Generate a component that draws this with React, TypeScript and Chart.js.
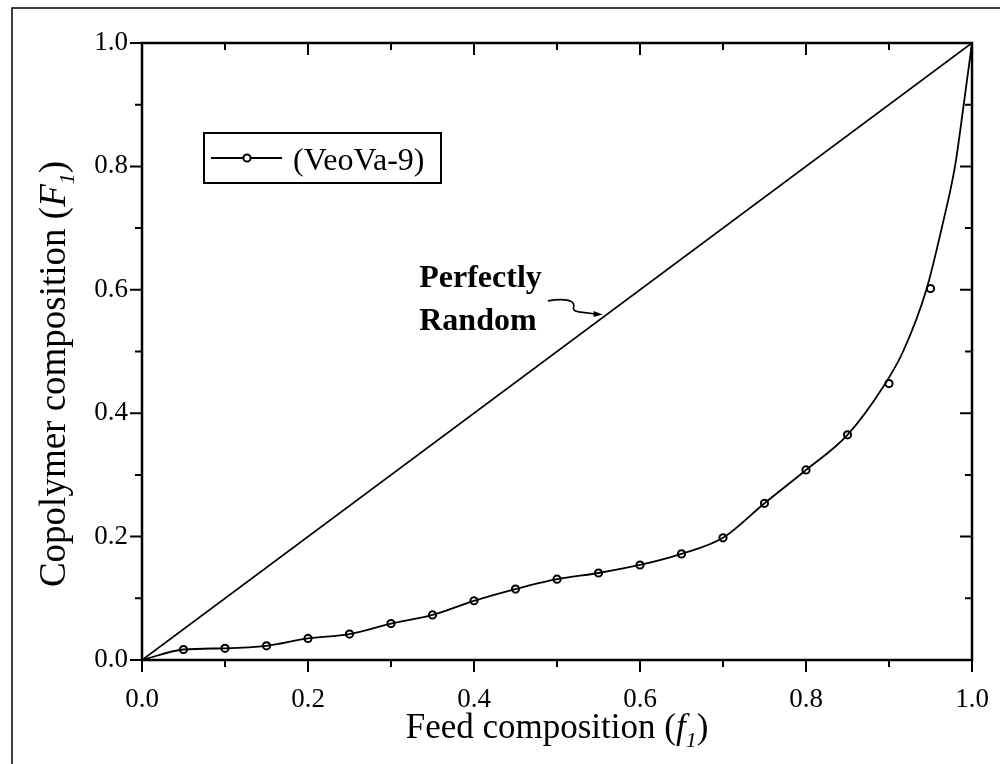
import { useEffect, useRef } from 'react';
import { Chart, registerables } from 'chart.js';

Chart.register(...registerables);

// ---- data ----
const feedX = [0.05, 0.1, 0.15, 0.2, 0.25, 0.3, 0.35, 0.4, 0.45, 0.5, 0.55, 0.6, 0.65, 0.7, 0.75, 0.8, 0.85, 0.9, 0.95];
const copolymerF = [0.017, 0.019, 0.023, 0.035, 0.042, 0.059, 0.073, 0.096, 0.115, 0.131, 0.141, 0.154, 0.172, 0.198, 0.254, 0.308, 0.365, 0.448, 0.602];
const fitX = [0, 0.05, 0.1, 0.15, 0.2, 0.25, 0.3, 0.35, 0.4, 0.45, 0.5, 0.55, 0.6, 0.65, 0.7, 0.75, 0.8, 0.85, 0.895, 0.917, 0.945, 0.9635, 0.9795, 0.99, 1.0];
const fitF = [0, 0.017, 0.019, 0.023, 0.035, 0.042, 0.059, 0.073, 0.096, 0.115, 0.131, 0.141, 0.154, 0.172, 0.198, 0.254, 0.308, 0.365, 0.447, 0.5, 0.6, 0.7, 0.8, 0.9, 1.0];
const randomX = [0, 1];
const randomF = [0, 1];
const majorTicks = [0, 0.2, 0.4, 0.6, 0.8, 1.0];
const minorTicks = [0.1, 0.3, 0.5, 0.7, 0.9];
const legendLabel = '(VeoVa-9)';
const noteLines = ['Perfectly', 'Random'];
const xTitle = 'Feed composition (';
const yTitle = 'Copolymer composition (';

const FONT = '"Liberation Serif", "Times New Roman", serif';

type Part = { text: string; font: string; dy?: number };

function drawRich(ctx: CanvasRenderingContext2D, parts: Part[], cx: number, by: number) {
  let total = 0;
  for (const p of parts) {
    ctx.font = p.font;
    total += ctx.measureText(p.text).width;
  }
  let x = cx - total / 2;
  ctx.textAlign = 'left';
  ctx.textBaseline = 'alphabetic';
  for (const p of parts) {
    ctx.font = p.font;
    ctx.fillText(p.text, x, by + (p.dy || 0));
    x += ctx.measureText(p.text).width;
  }
}

const decorPlugin = {
  id: 'decor',
  afterDraw(chart: any) {
    const { ctx, chartArea: a } = chart;
    const xs = chart.scales.x;
    const ys = chart.scales.y;
    ctx.save();
    ctx.strokeStyle = '#000';
    ctx.fillStyle = '#000';

    // outer frame (scan border)
    ctx.lineWidth = 1.5;
    ctx.beginPath();
    ctx.moveTo(12, 764);
    ctx.lineTo(12, 8);
    ctx.lineTo(1000, 8);
    ctx.stroke();

    // plot frame
    ctx.lineWidth = 2.5;
    ctx.strokeRect(a.left, a.top, a.right - a.left, a.bottom - a.top);

    // ticks
    ctx.lineWidth = 2;
    const tick = (v: number, len: number) => {
      const px = xs.getPixelForValue(v);
      const py = ys.getPixelForValue(v);
      ctx.beginPath();
      ctx.moveTo(px, a.bottom); ctx.lineTo(px, a.bottom + len);
      ctx.moveTo(px, a.top); ctx.lineTo(px, a.top + len);
      ctx.moveTo(a.left - len, py); ctx.lineTo(a.left, py);
      ctx.moveTo(a.right - len, py); ctx.lineTo(a.right, py);
      ctx.stroke();
    };
    majorTicks.forEach((v) => tick(v, 12));
    minorTicks.forEach((v) => tick(v, 7));

    // axis titles
    const big = `35px ${FONT}`;
    const bigI = `italic 35px ${FONT}`;
    const subI = `italic 22px ${FONT}`;
    drawRich(ctx, [
      { text: xTitle, font: big },
      { text: 'f', font: bigI },
      { text: '1', font: subI, dy: 9 },
      { text: ')', font: big },
    ], (a.left + a.right) / 2, 738);

    const bigY = `37px ${FONT}`;
    const bigYI = `italic 37px ${FONT}`;
    ctx.save();
    ctx.translate(65, 374);
    ctx.rotate(-Math.PI / 2);
    drawRich(ctx, [
      { text: yTitle, font: bigY },
      { text: 'F', font: bigYI },
      { text: '1', font: subI, dy: 9 },
      { text: ')', font: bigY },
    ], 0, 0);
    ctx.restore();

    // legend
    const lx = a.left + 62;
    const ly = a.top + 90;
    ctx.lineWidth = 2;
    ctx.strokeRect(lx, ly, 237, 50);
    ctx.lineWidth = 1.8;
    ctx.beginPath();
    ctx.moveTo(lx + 7, ly + 25);
    ctx.lineTo(lx + 78, ly + 25);
    ctx.stroke();
    ctx.beginPath();
    ctx.arc(lx + 43, ly + 25, 3.6, 0, Math.PI * 2);
    ctx.fillStyle = '#fff';
    ctx.fill();
    ctx.lineWidth = 2;
    ctx.stroke();
    ctx.fillStyle = '#000';
    ctx.font = `32px ${FONT}`;
    ctx.textAlign = 'left';
    ctx.textBaseline = 'alphabetic';
    ctx.fillText(legendLabel, lx + 89, ly + 37);

    // annotation
    ctx.font = `bold 32px ${FONT}`;
    const tx = xs.getPixelForValue(0.334);
    ctx.fillText(noteLines[0], tx, ys.getPixelForValue(0.6045));
    ctx.fillText(noteLines[1], tx, ys.getPixelForValue(0.535));

    // squiggly arrow
    const P = (vx: number, vy: number) => [xs.getPixelForValue(vx), ys.getPixelForValue(vy)];
    const [sx, sy] = P(0.489, 0.582);
    const [tipX, tipY] = P(0.555, 0.56);
    ctx.lineWidth = 1.6;
    ctx.beginPath();
    ctx.moveTo(sx, sy);
    ctx.quadraticCurveTo(sx + 17, sy - 3, sx + 24, sy + 1);
    ctx.bezierCurveTo(sx + 30, sy + 5, sx + 20, sy + 9, sx + 31, sy + 11);
    ctx.lineTo(tipX - 7, tipY - 0.5);
    ctx.stroke();
    ctx.beginPath();
    ctx.moveTo(tipX, tipY);
    ctx.lineTo(tipX - 9, tipY - 3.5);
    ctx.lineTo(tipX - 9, tipY + 2.5);
    ctx.closePath();
    ctx.fill();

    ctx.restore();
  },
};

export default function App() {
  const ref = useRef<HTMLCanvasElement>(null);
  useEffect(() => {
    document.body.style.margin = '0';
    const tickFont = { family: FONT, size: 27 };
    const hiddenGrid = {
      display: true,
      drawOnChartArea: false,
      drawTicks: true,
      tickLength: 14,
      color: 'rgba(0,0,0,0)',
      tickColor: 'rgba(0,0,0,0)',
    };
    const chart = new Chart(ref.current as HTMLCanvasElement, {
      type: 'scatter',
      data: {
        datasets: [
          {
            label: 'Perfectly Random',
            data: randomX.map((x, i) => ({ x, y: randomF[i] })),
            showLine: true,
            borderColor: '#000',
            borderWidth: 1.8,
            pointRadius: 0,
          },
          {
            label: 'fit',
            data: fitX.map((x, i) => ({ x, y: fitF[i] })),
            showLine: true,
            borderColor: '#000',
            borderWidth: 1.8,
            pointRadius: 0,
            cubicInterpolationMode: 'monotone',
          },
          {
            label: legendLabel,
            data: feedX.map((x, i) => ({ x, y: copolymerF[i] })),
            showLine: false,
            pointRadius: 3.6,
            pointBorderWidth: 2,
            pointBackgroundColor: '#fff',
            pointBorderColor: '#000',
          },
        ],
      } as any,
      options: {
        responsive: false,
        animation: false,
        layout: { padding: { left: 0, top: 43, right: 28, bottom: 0 } },
        plugins: { legend: { display: false }, tooltip: { enabled: false } },
        scales: {
          x: {
            type: 'linear',
            min: 0,
            max: 1,
            afterFit: (s: any) => { s.height = 104; },
            afterBuildTicks: (s: any) => { s.ticks = majorTicks.map((value) => ({ value })); },
            grid: hiddenGrid,
            border: { display: false },
            ticks: {
              padding: 10,
              color: '#000',
              font: tickFont,
              maxRotation: 0,
              autoSkip: false,
              callback: (v: any) => Number(v).toFixed(1),
            },
          },
          y: {
            type: 'linear',
            min: 0,
            max: 1,
            afterFit: (s: any) => { s.width = 142; },
            afterBuildTicks: (s: any) => { s.ticks = majorTicks.map((value) => ({ value })); },
            grid: { display: false, drawTicks: false },
            border: { display: false },
            ticks: {
              padding: 14,
              color: '#000',
              font: tickFont,
              autoSkip: false,
              callback: (v: any) => Number(v).toFixed(1),
            },
          },
        },
      } as any,
      plugins: [decorPlugin],
    });
    return () => chart.destroy();
  }, []);
  return (
    <div style={{ position: 'absolute', left: 0, top: 0, width: 1000, height: 764, background: '#fff' }}>
      <canvas ref={ref} width={1000} height={764} style={{ display: 'block', width: 1000, height: 764 }} />
    </div>
  );
}
